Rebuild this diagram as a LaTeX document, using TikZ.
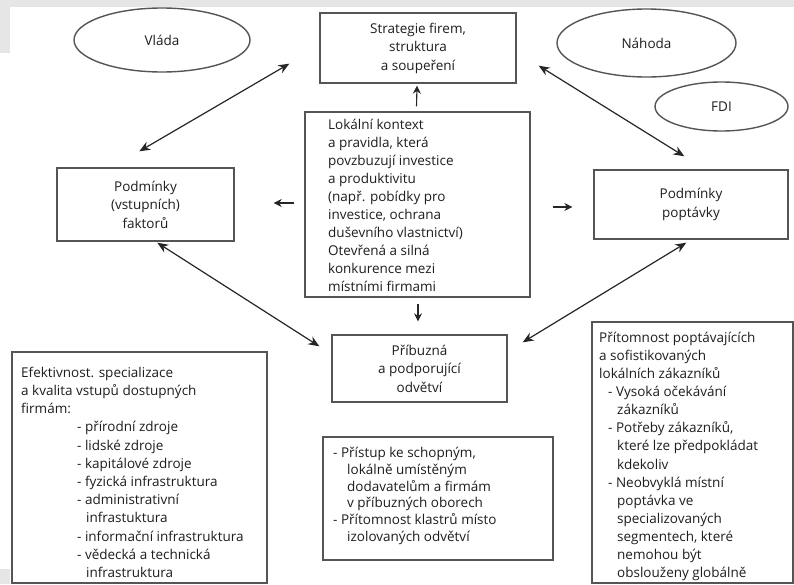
\documentclass[tikz,border=0pt]{standalone}
\usepackage{fontspec}
\setmainfont{Open Sans}
\usetikzlibrary{shapes.geometric,arrows.meta}
\definecolor{txt}{HTML}{1E1E1E}
\definecolor{ln}{HTML}{555555}
\definecolor{bgg}{HTML}{E6E6E6}
\begin{document}
\begin{tikzpicture}[x=1pt,y=-1pt,
  box/.style={draw=ln,line width=1.4pt,inner sep=0pt,align=center,text=txt,
    font=\fontsize{13.5}{18.5}\selectfont},
  ell/.style={ellipse,draw=ln,line width=1.4pt,inner sep=0pt,text=txt,
    font=\fontsize{13.5}{18.5}\selectfont},
  para/.style={anchor=base west,inner sep=0pt,align=left,text=txt,
    font=\fontsize{13.5}{18.1}\selectfont},
  dbl/.style={{Stealth[length=11pt,width=9pt]}-{Stealth[length=11pt,width=9pt]},line width=1.2pt,draw=black!85},
  sarr/.style={-{Stealth[length=8pt,width=8pt]},line width=1.1pt,draw=black!85}]
\useasboundingbox (0,0) rectangle (794,584);
\fill[white] (0,0) rectangle (794,584);
\fill[bgg] (0,0) rectangle (794,7);
\fill[bgg] (0,0) rectangle (10,53);
\fill[bgg] (0,569) rectangle (10,584);

% ellipses
\node[ell,minimum width=176pt,minimum height=64pt] (vlada) at (162,40) {\raisebox{-2pt}{Vláda}};
\node[ell,minimum width=179pt,minimum height=68pt] (nahoda) at (646.5,43) {Náhoda};
\node[ell,minimum width=133pt,minimum height=49pt] (fdi) at (721.5,106.5) {FDI};

% boxes
\node[box,minimum width=196pt,minimum height=70pt] (strat) at (418,48)
  {Strategie firem,\\ struktura\\ a soupeření};
\node[box,minimum width=225pt,minimum height=185pt] (lok) at (417.5,204.5) {};
\node[box,minimum width=177pt,minimum height=73pt] (fakt) at (145.5,204.5)
  {Podmínky\\ (vstupních)\\ faktorů};
\node[box,minimum width=194pt,minimum height=69pt] (popt) at (691,204.5)
  {Podmínky\\ poptávky};
\node[box,minimum width=175pt,minimum height=67pt] (prib) at (419.5,368.5)
  {Příbuzná\\ a podporující\\ odvětví};
\node[box,minimum width=255pt,minimum height=231pt] (efek) at (139.5,467.5) {};
\node[box,minimum width=230pt,minimum height=123pt] (pristup) at (438,498.5) {};
\node[box,minimum width=201pt,minimum height=261pt] (pritom) at (692.5,452.5) {};

% paragraph texts (anchor = baseline of last line)
\node[para,font=\fontsize{13.5}{18}\selectfont] (tlok) at (328,291.5) {Lokální kontext\\ a pravidla, která\\ povzbuzují investice\\ a produktivitu\\ (např. pobídky pro\\ investice, ochrana\\ duševního vlastnictví)\\ Otevřená a silná\\ konkurence mezi\\ místními firmami};
\node[para,font=\fontsize{13.5}{18.2}\selectfont] (tefek) at (21,577.5) {Efektivnost. specializace\\ a kvalita vstupů dostupných\\ firmám:\\
 \hspace*{56pt}- přírodní zdroje\\
 \hspace*{56pt}- lidské zdroje\\
 \hspace*{56pt}- kapitálové zdroje\\
 \hspace*{56pt}- fyzická infrastruktura\\
 \hspace*{56pt}- administrativní\\
 \hspace*{65pt}infrastuktura\\
 \hspace*{56pt}- informační infrastruktura\\
 \hspace*{56pt}- vědecká a technická\\
 \hspace*{65pt}infrastruktura};
\node[para,font=\fontsize{13.5}{16.8}\selectfont] (tpristup) at (333,541.5) {- Přístup ke schopným,\\
 \hspace*{14pt}lokálně umístěným\\
 \hspace*{14pt}dodavatelům a firmám\\
 \hspace*{14pt}v příbuzných oborech\\
 - Přítomnost klastrů místo\\
 \hspace*{14pt}izolovaných odvětví};
\node[para,font=\fontsize{13.5}{18.08}\selectfont] (tpritom) at (599,577.5) {Přítomnost poptávajících\\ a sofistikovaných\\ lokálních zákazníků\\
 \hspace*{9pt}- Vysoká očekávání\\
 \hspace*{18pt}zákazníků\\
 \hspace*{9pt}- Potřeby zákazníků,\\
 \hspace*{18pt}které lze předpokládat\\
 \hspace*{18pt}kdekoliv\\
 \hspace*{9pt}- Neobvyklá místní\\
 \hspace*{18pt}poptávka ve\\
 \hspace*{18pt}specializovaných\\
 \hspace*{18pt}segmentech, které\\
 \hspace*{18pt}nemohou být\\
 \hspace*{18pt}obslouženy globálně};

% double arrows
\draw[dbl] ([shift={(-30,-20)}]strat.south west) -- ([shift={(83,-16)}]fakt.north west);
\draw[dbl] ([shift={(22,-18)}]strat.south east) -- ([shift={(91,-13)}]popt.north west);
\draw[dbl] ([shift={(101,1)}]fakt.south west) -- ([shift={(-12,12)}]prib.north west);
\draw[dbl] ([shift={(93,3)}]popt.south west) -- ([shift={(15,8)}]prib.north east);

% small arrows
\draw[sarr] ([shift={(-1,-5)}]lok.north) -- ([shift={(-1,2)}]strat.south);
\draw[sarr] ([shift={(-10,-1.5)}]lok.west) -- ([shift={(39,-1.5)}]fakt.east);
\draw[sarr] ([shift={(22,2.5)}]lok.east) -- ([shift={(-21,2.5)}]popt.west);
\draw[sarr] ([shift={(0.5,6)}]lok.south) -- ([shift={(-1.5,-13)}]prib.north);
\end{tikzpicture}
\end{document}
